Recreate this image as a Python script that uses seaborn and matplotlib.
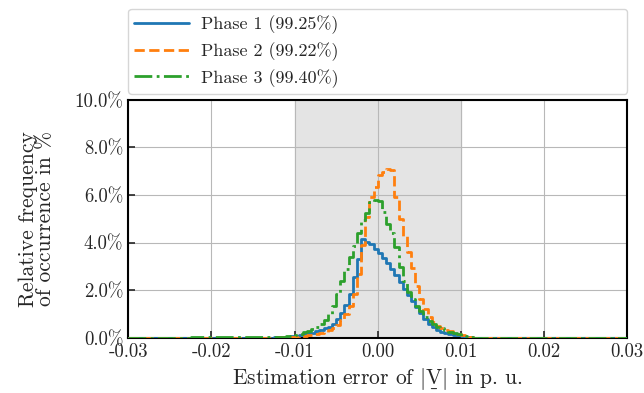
import numpy as np
import matplotlib
matplotlib.use("Agg")
import matplotlib.pyplot as plt
from matplotlib.ticker import PercentFormatter
import pandas as pd
import seaborn as sns

# bin edges: coarse tail on the left, 0.0005 bins in the core
tail_edges = [-0.03, -0.0275, -0.025, -0.0225, -0.02, -0.0175, -0.015]
core_edges = list(np.linspace(-0.0125, 0.0125, 51))
edges = tail_edges + core_edges + [0.03]

# relative frequency in % per bin (tail, core, right tail)
phase1_tail = [0.01, 0.01, 0.01, 0.015, 0.015, 0.02, 0.02]
phase1_core = [0.03, 0.04, 0.05, 0.06, 0.07, 0.09, 0.12, 0.15, 0.19, 0.23,
               0.28, 0.34, 0.40, 0.48, 0.60, 0.80, 1.05, 1.40, 1.85, 2.55,
               3.30, 4.15, 4.05, 3.95, 3.75, 3.55, 3.35, 3.15, 2.90, 2.65,
               2.35, 2.05, 1.80, 1.55, 1.30, 1.05, 0.80, 0.60, 0.45, 0.35,
               0.27, 0.21, 0.17, 0.14, 0.11, 0.08, 0.05, 0.03, 0.02, 0.01]

phase2_tail = [0.02, 0.02, 0.02, 0.02, 0.02, 0.02, 0.02]
phase2_core = [0.02, 0.03, 0.03, 0.04, 0.05, 0.06, 0.07, 0.09, 0.11, 0.14,
               0.17, 0.21, 0.26, 0.32, 0.40, 0.55, 0.75, 1.00, 1.35, 1.85,
               2.70, 3.90, 5.10, 5.90, 6.35, 6.85, 6.95, 7.10, 7.05, 5.90,
               5.00, 4.30, 3.60, 2.95, 2.20, 1.65, 1.20, 0.90, 0.65, 0.52,
               0.42, 0.35, 0.28, 0.22, 0.18, 0.12, 0.07, 0.04, 0.02, 0.01]

phase3_tail = [0.02, 0.02, 0.02, 0.03, 0.03, 0.03, 0.03]
phase3_core = [0.04, 0.05, 0.06, 0.08, 0.10, 0.13, 0.18, 0.24, 0.30, 0.38,
               0.48, 0.60, 0.75, 1.00, 1.35, 1.85, 2.40, 2.90, 3.40, 3.85,
               4.40, 4.95, 5.25, 5.70, 5.80, 5.75, 5.30, 4.80, 4.40, 3.80,
               3.00, 2.40, 1.95, 1.65, 1.35, 1.15, 0.90, 0.72, 0.60, 0.48,
               0.40, 0.33, 0.26, 0.20, 0.15, 0.10, 0.07, 0.04, 0.02, 0.01]

labels = ["Phase 1 (99.25%)", "Phase 2 (99.22%)", "Phase 3 (99.40%)"]
colors = ["#1f77b4", "#ff7f0e", "#2ca02c"]
styles = ["-", "--", "-."]

series = [phase1_tail + phase1_core + [0.0],
          phase2_tail + phase2_core + [0.0],
          phase3_tail + phase3_core + [0.0]]

sns.set_style("ticks")
plt.rcParams["font.family"] = "serif"
plt.rcParams["font.serif"] = ["cmr10"]
plt.rcParams["mathtext.fontset"] = "cm"
plt.rcParams["axes.unicode_minus"] = False
plt.rcParams["axes.formatter.use_mathtext"] = True
plt.rcParams["font.size"] = 13
plt.rcParams["xtick.direction"] = "in"
plt.rcParams["ytick.direction"] = "in"

fig = plt.figure(figsize=(6.44, 3.93), dpi=100)
ax = fig.add_axes([0.199, 0.140, 0.775, 0.606])

e = np.array(edges)
centers = (e[:-1] + e[1:]) / 2
ax.axvspan(-0.01, 0.01, color="#e4e4e4", zorder=0)
for vals, lab, col, ls in zip(series, labels, colors, styles):
    df = pd.DataFrame({"err": centers, "freq": vals})
    sns.histplot(data=df, x="err", weights="freq", bins=edges, element="step",
                 fill=False, color=col, linestyle=ls, linewidth=2, label=lab,
                 ax=ax, zorder=3)

ax.set_xlim(-0.03, 0.03)
ax.set_ylim(0, 10)
ax.set_xticks([-0.03, -0.02, -0.01, 0.0, 0.01, 0.02, 0.03])
ax.set_xticklabels(["-0.03", "-0.02", "-0.01", "0.00", "0.01", "0.02", "0.03"])
ax.set_yticks([0, 2, 4, 6, 8, 10])
ax.yaxis.set_major_formatter(PercentFormatter(xmax=100, decimals=1))
ax.grid(True, color="#b8b8b8", linewidth=0.8, zorder=1)
ax.set_axisbelow(True)
for sp in ax.spines.values():
    sp.set_linewidth(1.5)
    sp.set_color("black")
ax.tick_params(length=5, width=1.2, labelsize=13.5)

ax.set_xlabel(r"Estimation error of $|\underset{\_}{\mathrm{V}}|$ in p. u.", fontsize=15.5)
ax.set_ylabel("Relative frequency\nof occurrence in %", fontsize=15.5,
              linespacing=0.85, labelpad=14)

ax.legend(loc="lower left", bbox_to_anchor=(0, 1.025, 1, 0.3), mode="expand",
          ncol=1, fontsize=13, handlelength=3.0, handletextpad=0.7,
          borderaxespad=0, frameon=True, labelspacing=0.45, borderpad=0.35)

fig.savefig("out.png", dpi=100)
